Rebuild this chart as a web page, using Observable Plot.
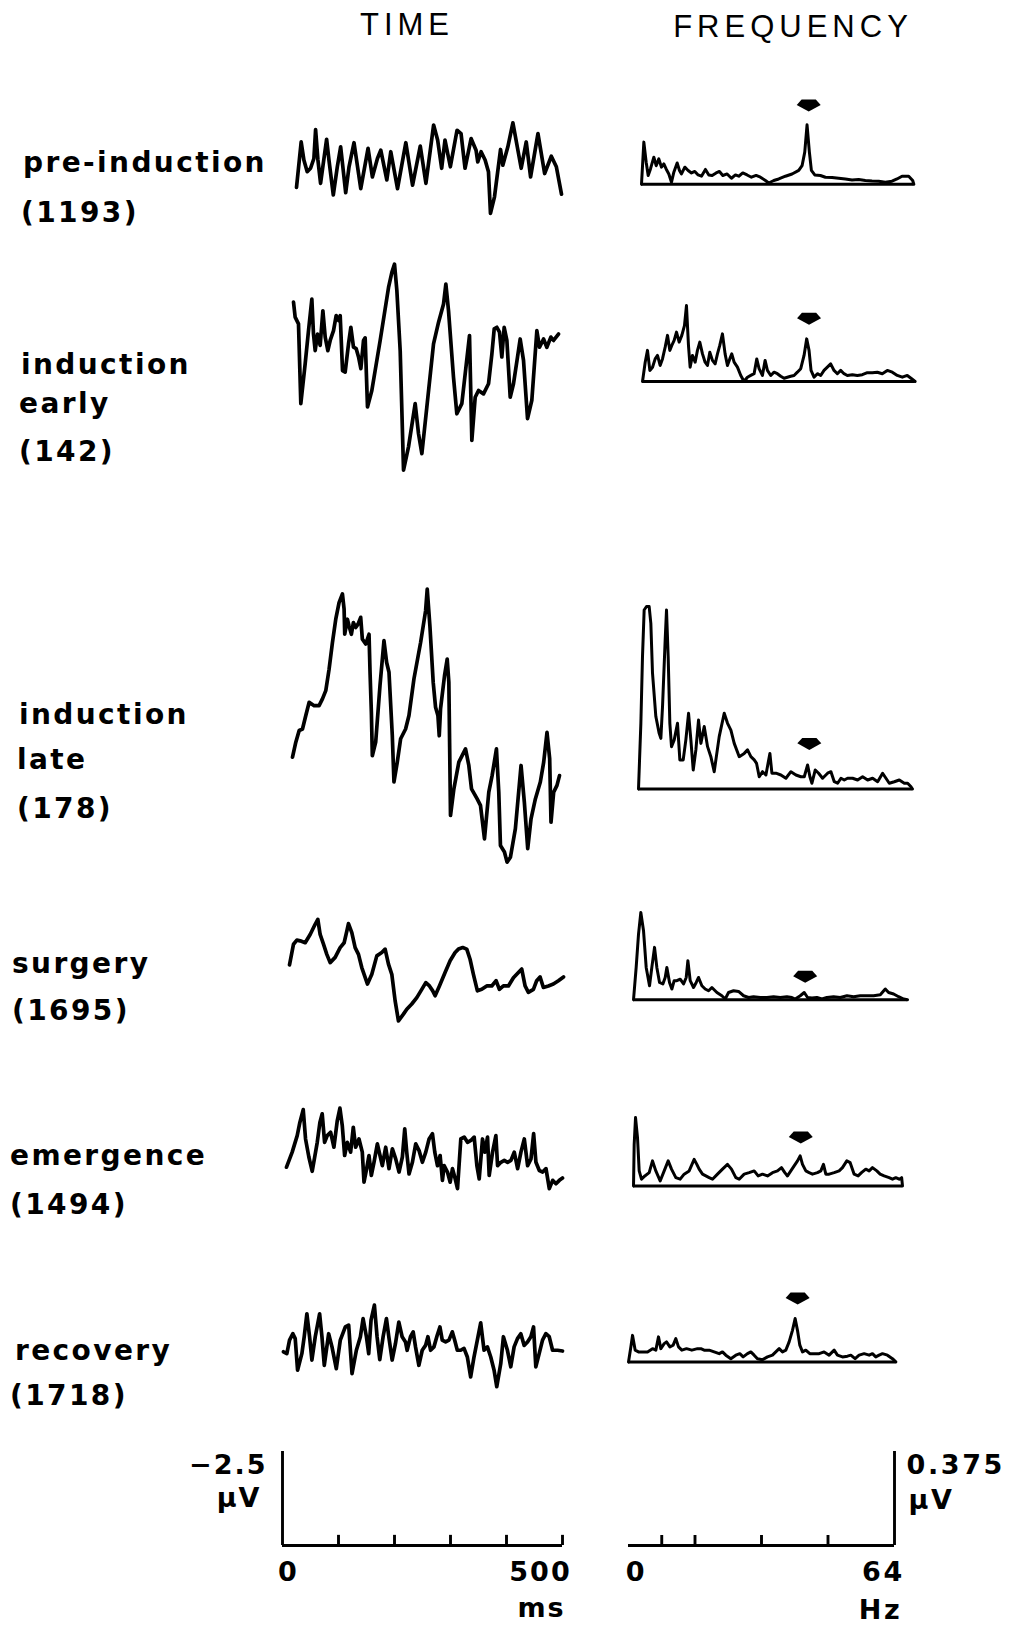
<!DOCTYPE html>
<html><head><meta charset="utf-8">
<script src="https://cdn.jsdelivr.net/npm/d3@7"></script>
<script src="https://cdn.jsdelivr.net/npm/@observablehq/plot@0.6"></script>
<style>
body{margin:0;background:#fff;}
#fig{position:relative;width:1019px;height:1625px;overflow:hidden;font-family:"Liberation Sans",Arial,sans-serif;color:#000;background:#fff;}
.lab{position:absolute;font-family:"DejaVu Sans",sans-serif;font-size:28px;font-weight:bold;letter-spacing:2.4px;line-height:32px;white-space:nowrap;}
.title{position:absolute;font-size:31px;letter-spacing:5px;line-height:36px;white-space:nowrap;transform:translateX(-50%);}
.panel{position:absolute;}
</style></head><body><div id="fig"></div><script>
// Averaged responses per anaesthesia stage: [time ms, µV] (negative up)
const preInductionTime = [[0,0.55],[8.8,-0.66],[13.9,-0.18],[20.2,0.13],[26.5,0.04],[32.8,-0.22],[36,-0.99],[40.4,-0.18],[45.4,0.44],[56.8,-0.73],[61.2,-0.18],[69.4,0.75],[77,0],[83.3,-0.53],[92.8,0.69],[99.1,0],[108.5,-0.64],[121.2,0.58],[135,-0.49],[143.2,0.27],[152.7,-0.22],[159,-0.44],[170.4,0.35],[177.9,-0.4],[190.6,0.58],[206.3,-0.64],[219,0.49],[233.5,-0.55],[244.2,0.44],[258.7,-1.11],[266.3,-0.71],[273.9,0.04],[280.2,-0.71],[290.3,0],[302.9,-0.97],[310.5,-0.88],[318,0.04],[329.4,-0.75],[338.8,-0.44],[342,-0.13],[348.3,-0.4],[355.9,-0.18],[362.2,0.13],[366,1.24],[373.6,0.8],[385,-0.46],[389.3,-0.04],[398.8,-0.53],[408.3,-1.17],[424,0.04],[433.5,-0.66],[441.7,0.27],[455.6,-0.88],[468.2,0.18],[480.8,-0.28],[490.3,0],[500,0.73]];
const inductionEarlyTime = [[0,-1.73],[3.1,-1.33],[9.4,-1.15],[13.8,0.97],[22,-0.09],[28.3,-0.97],[34.6,-1.81],[37.7,-0.88],[40.9,-0.44],[45.3,-0.88],[50.3,-0.58],[55.4,-1.5],[59.8,-0.8],[64.8,-0.44],[69.2,-0.71],[75.5,-0.97],[80.5,-1.37],[84.9,-1.24],[88.1,-1.37],[92.5,0.09],[97.5,0.13],[103.8,-0.62],[108.2,-1.06],[113.2,-0.53],[118.3,-0.49],[122.7,-0.27],[127.1,0.04],[132.1,-0.71],[135.2,-0.78],[139.6,1.06],[147.8,0.62],[163.5,-0.71],[179.3,-2.12],[185.6,-2.52],[190.6,-2.74],[195,-2.04],[201.3,-0.44],[207.6,2.74],[217,2.12],[229.6,0.97],[235.9,1.77],[242.2,2.3],[251.6,1.06],[264.2,-0.62],[273.6,-1.19],[283.1,-1.68],[287.5,-2.21],[292.5,-1.5],[301.9,0.27],[308.2,1.24],[317.6,0.97],[332.1,-0.84],[336.5,1.95],[342.8,0.8],[349.1,0.62],[358.5,0.71],[368,0.44],[374.3,-0.35],[378.7,-1.02],[383.7,-1.06],[388.7,-0.93],[393.1,-0.27],[397.5,-1.06],[402.6,-0.71],[408.9,0.8],[415.1,0.44],[422.7,-0.27],[427.7,-0.75],[434,-0.18],[441.6,1.37],[449.7,0.88],[459.2,-0.97],[464.2,-0.53],[471.8,-0.75],[478,-0.53],[485.6,-0.8],[490.6,-0.71],[500,-0.88]];
const inductionLateTime = [[0,0.84],[6.2,0.44],[12.5,0.13],[18.7,0.09],[24.9,-0.27],[31.2,-0.62],[40.5,-0.53],[49.8,-0.53],[56.1,-0.71],[62.3,-0.93],[68.5,-1.5],[74.8,-2.21],[81,-2.83],[87.2,-3.27],[93.5,-3.5],[96.6,-3.1],[97.8,-2.43],[102.8,-2.83],[105.9,-2.65],[110.3,-2.43],[114,-2.74],[118.4,-2.61],[122.7,-2.7],[127.7,-2.88],[130.8,-2.3],[137.1,-2.17],[143.3,-2.43],[145.2,-1.42],[147.7,-0.35],[149.5,0.8],[155.8,0.44],[163.8,-1.06],[171.3,-2.26],[176.3,-1.68],[180.7,-1.42],[186.9,0.27],[190,1.5],[196.2,0.97],[202.5,0.35],[211.8,0.09],[218.1,-0.27],[227.4,-1.24],[239.9,-2.21],[249.2,-3.05],[252.3,-3.63],[257.3,-2.65],[263.5,-1.15],[267.9,-0.49],[272.3,-0.27],[274.8,0.27],[277.2,-0.44],[284.7,-1.33],[289.7,-1.77],[292.8,-1.15],[295.9,2.39],[302.2,1.68],[311.5,0.97],[324,0.62],[330.2,1.06],[335.2,1.68],[345.8,1.95],[352,2.12],[359.5,3.01],[367.6,1.77],[373.8,1.33],[381.9,0.62],[386.3,1.77],[389.4,3.19],[396.9,3.36],[401.8,3.63],[408.1,3.5],[417.4,2.74],[428,1.06],[434.2,2.04],[440.5,3.27],[446.7,2.48],[454.8,1.95],[464.1,1.5],[470.4,0.97],[476.6,0.18],[481.6,0.88],[484.1,2.57],[489.1,1.77],[495.3,1.59],[500,1.33]];
const surgeryTime = [[0,-0.07],[7.3,-0.62],[13.4,-0.73],[19.5,-0.71],[28.6,-0.66],[37.7,-0.88],[46.8,-1.15],[51.7,-1.28],[55.9,-0.88],[62,-0.62],[68.1,-0.35],[74.2,-0.13],[83.3,-0.27],[92.4,-0.53],[99.7,-0.66],[104.6,-0.97],[107.6,-1.17],[113.7,-0.93],[119.8,-0.53],[125.9,-0.35],[131.9,0],[142.3,0.44],[150.2,0.18],[159.3,-0.31],[168.4,-0.4],[174.5,-0.49],[180.6,-0.09],[186.7,0.18],[192.7,0.88],[198.8,1.42],[207.9,1.24],[214,1.11],[223.1,0.97],[232.3,0.8],[241.4,0.58],[248.7,0.4],[255.4,0.49],[261.4,0.62],[265.7,0.75],[273.6,0.49],[283.9,0.13],[293.1,-0.18],[302.2,-0.4],[308.3,-0.49],[316.2,-0.53],[323.5,-0.49],[329.5,-0.22],[335.6,0.18],[342.9,0.62],[350.8,0.58],[359.9,0.49],[369.1,0.49],[377,0.35],[383,0.58],[390.3,0.49],[399.5,0.49],[408.6,0.27],[417.7,0.13],[423.8,0.04],[429.9,0.49],[435.9,0.66],[445.1,0.58],[451.1,0.35],[457.2,0.25],[463.3,0.53],[472.4,0.49],[481.5,0.44],[490.7,0.35],[500,0.25]];
const emergenceTime = [[0,0.31],[10.3,-0.09],[19.4,-0.53],[24.2,-0.88],[30.3,-1.22],[34.5,-0.44],[40.5,0.04],[46.6,0.42],[55.7,-0.35],[60.5,-0.88],[64.7,-1.11],[69,-0.35],[73.8,-0.53],[79.9,-0.62],[85.9,-0.22],[92,-0.93],[96.8,-1.26],[101,-0.8],[105.3,0],[110.1,-0.35],[116.2,-0.09],[121,-0.75],[125.2,-0.22],[131.3,-0.44],[137.3,-0.09],[140.4,0.71],[145.2,0.35],[149.4,0],[153.7,0.53],[158.5,0.18],[164.6,-0.31],[169.4,0],[173.6,0.27],[179.7,-0.22],[185.7,0.35],[191.8,-0.18],[197.8,0.09],[203.9,0.44],[209.9,0.04],[214.2,-0.71],[217.8,-0.09],[222,0.49],[228.1,0.18],[234.1,-0.31],[240.2,-0.13],[246.2,0.18],[252.3,-0.09],[258.3,-0.44],[264.4,-0.58],[268.6,-0.09],[273.5,0.27],[278.3,0],[282.5,0.66],[285.6,0.27],[291.6,0.44],[296.5,0.71],[300.7,0.35],[304.9,0.58],[309.8,0.88],[315.8,-0.44],[321.9,-0.49],[327.9,-0.35],[334,-0.4],[340,-0.49],[344.9,0.27],[349.1,0.62],[355.1,-0.44],[359.4,-0.09],[364.2,-0.49],[367.2,0.53],[373.3,-0.09],[379.3,-0.53],[382.4,0.27],[388.4,0.18],[394.5,0.13],[400.5,0.18],[406.6,0.13],[412.6,-0.09],[418.7,0.35],[424.7,-0.09],[430.8,-0.44],[436.8,0.27],[442.9,0.09],[447.7,-0.58],[451.9,0.18],[458,0.4],[464,0.44],[470.1,0.35],[476.1,0.88],[482.2,0.66],[488.2,0.75],[494.3,0.66],[500,0.6]];
const recoveryTime = [[0,0.13],[6,0.18],[10.8,-0.18],[16.8,-0.35],[21,-0.22],[25.2,0.62],[32.9,0.18],[37.1,-0.27],[41.9,-0.88],[46.7,-0.27],[50.9,0.35],[56.9,-0.27],[64.7,-0.88],[68.9,-0.27],[73.1,0.49],[80.9,-0.35],[86.9,0],[94.6,0.58],[101.8,-0.18],[110.8,-0.53],[116.8,-0.58],[122.8,0.71],[130.6,0.09],[137.8,-0.27],[142.6,-0.75],[148.6,-0.27],[152.7,0.18],[156.9,-0.71],[162.9,-1.11],[167.7,-0.27],[172.5,0.34],[178.5,-0.27],[184.5,-0.75],[188.7,-0.27],[194.7,0.35],[200.7,-0.09],[206.7,-0.66],[212.6,-0.27],[218.6,-0.13],[221.6,0.09],[227.6,-0.27],[232.4,-0.4],[236.6,0],[242.6,0.49],[248.6,0.09],[254.6,-0.04],[258.8,-0.27],[263.6,0.09],[269.6,0],[275.5,-0.31],[280.3,-0.53],[284.5,-0.18],[290.5,-0.13],[296.5,-0.18],[302.5,-0.4],[306.7,-0.18],[311.5,0.09],[317.5,0.09],[323.5,0.04],[329.5,0.27],[335.4,0.8],[341.4,0.27],[348.6,-0.27],[353.4,-0.64],[359.4,0.09],[365.4,0],[371.4,0.27],[377.4,0.62],[382.2,1.06],[389.4,0.44],[394.1,-0.27],[401.3,0.09],[407.3,0.53],[413.3,0],[419.3,-0.22],[425.3,-0.35],[431.3,-0.04],[437.3,-0.13],[443.3,-0.27],[448.1,-0.53],[452.2,0.53],[458.2,0.18],[464.2,-0.18],[470.2,-0.35],[476.2,-0.27],[482.2,0.09],[491.2,0.09],[500,0.11]];

// Amplitude spectra: [frequency Hz, µV]
const preInductionSpec = [[0,0],[0.55,0.168],[1.1,0.088],[1.57,0.035],[2.11,0.061],[2.9,0.108],[3.45,0.074],[4.07,0.101],[4.7,0.068],[5.25,0.081],[5.79,0.061],[6.42,0.041],[7.05,0.008],[7.6,0.048],[8.38,0.085],[8.93,0.055],[9.4,0.041],[10.18,0.068],[10.96,0.055],[11.75,0.045],[12.53,0.051],[13.31,0.037],[14.09,0.032],[15.03,0.059],[15.82,0.037],[16.6,0.035],[17.54,0.045],[18.32,0.051],[19.11,0.035],[20.12,0.041],[21.14,0.024],[22.08,0.037],[22.86,0.032],[23.8,0.045],[24.82,0.037],[25.84,0.028],[26.94,0.035],[27.95,0.028],[29.13,0.015],[29.91,0.005],[31.09,0.015],[32.26,0.021],[33.83,0.032],[35.39,0.041],[36.96,0.055],[37.74,0.074],[38.37,0.128],[38.91,0.237],[39.46,0.128],[39.93,0.055],[40.72,0.037],[42.05,0.035],[43.22,0.028],[44.79,0.027],[46.35,0.024],[47.92,0.021],[49.49,0.017],[51.05,0.019],[52.62,0.015],[54.18,0.013],[55.75,0.012],[57.32,0.008],[58.88,0.012],[60.06,0.021],[61.23,0.032],[62.8,0.032],[63.74,0.015],[64,0]];
const inductionEarlySpec = [[0,0],[0.63,0.077],[1.17,0.124],[1.72,0.044],[2.35,0.057],[2.97,0.09],[3.52,0.104],[4.14,0.064],[4.69,0.09],[5.32,0.137],[5.87,0.184],[6.41,0.124],[6.88,0.144],[7.43,0.164],[7.98,0.197],[8.6,0.157],[9.23,0.184],[9.85,0.223],[10.32,0.303],[10.79,0.144],[11.18,0.057],[11.73,0.104],[12.36,0.077],[12.9,0.124],[13.45,0.157],[14.08,0.11],[14.7,0.077],[15.25,0.064],[15.8,0.117],[16.42,0.084],[17.05,0.07],[17.6,0.11],[18.14,0.144],[18.77,0.19],[19.39,0.11],[19.94,0.064],[20.49,0.09],[20.96,0.11],[21.51,0.077],[22.29,0.057],[23.07,0.024],[23.85,0],[24.63,0.017],[25.42,0.024],[26.2,0.031],[26.82,0.09],[27.37,0.051],[28.15,0.024],[28.78,0.084],[29.33,0.044],[30.11,0.024],[30.89,0.037],[31.67,0.031],[32.45,0.021],[33.24,0.013],[34.02,0.017],[34.8,0.021],[35.58,0.024],[36.36,0.037],[37.15,0.051],[37.93,0.104],[38.55,0.17],[39.1,0.124],[39.57,0.044],[40.27,0.017],[41.06,0.031],[41.84,0.024],[42.62,0.044],[43.4,0.057],[44.18,0.07],[44.97,0.044],[45.75,0.031],[46.53,0.044],[47.31,0.031],[48.09,0.024],[49.27,0.027],[50.44,0.024],[51.61,0.027],[52.79,0.035],[53.96,0.035],[55.13,0.037],[56.3,0.031],[57.48,0.044],[58.65,0.037],[59.82,0.024],[61,0.017],[62.17,0.024],[63.19,0.011],[64,0]];
const inductionLateSpec = [[0,0],[0.55,0.262],[0.93,0.528],[1.32,0.714],[1.87,0.728],[2.49,0.728],[2.88,0.661],[3.27,0.462],[4.05,0.289],[4.83,0.222],[5.22,0.202],[5.61,0.329],[6.23,0.595],[6.54,0.714],[6.93,0.528],[7.32,0.262],[7.71,0.169],[8.34,0.196],[9.11,0.262],[9.66,0.116],[10.44,0.116],[11.06,0.196],[11.69,0.302],[12.23,0.196],[12.78,0.076],[13.4,0.156],[14.02,0.275],[14.57,0.182],[15.35,0.249],[16.13,0.169],[16.9,0.129],[17.68,0.069],[18.85,0.209],[20.02,0.302],[20.8,0.262],[21.58,0.235],[22.36,0.182],[23.53,0.129],[24.69,0.142],[25.47,0.156],[26.25,0.129],[27.03,0.116],[27.58,0.102],[28.2,0.049],[28.98,0.069],[29.76,0.056],[30.69,0.142],[31.16,0.063],[32.09,0.063],[33.26,0.056],[34.43,0.043],[35.6,0.069],[36.77,0.056],[37.94,0.049],[38.72,0.049],[39.5,0.096],[40.04,0.049],[40.51,0.023],[41.29,0.076],[42.07,0.063],[43,0.043],[44.17,0.063],[44.95,0.069],[45.73,0.029],[46.51,0.023],[47.29,0.043],[48.06,0.036],[48.84,0.043],[50.01,0.043],[51.18,0.036],[52.35,0.049],[53.52,0.036],[54.69,0.043],[55.86,0.029],[57.02,0.063],[57.8,0.043],[58.58,0.023],[59.75,0.029],[60.92,0.036],[62.09,0.023],[62.87,0.023],[63.65,0.009],[64,0]];
const surgerySpec = [[0,0],[0.62,0.129],[1.17,0.262],[1.71,0.348],[2.34,0.275],[2.96,0.129],[3.74,0.056],[4.28,0.129],[4.91,0.209],[5.45,0.129],[6.08,0.069],[6.86,0.063],[7.4,0.089],[7.79,0.129],[8.41,0.069],[8.96,0.043],[9.5,0.076],[10.13,0.076],[10.91,0.082],[11.69,0.063],[12.31,0.089],[12.7,0.156],[13.24,0.076],[14.02,0.049],[14.65,0.069],[15.19,0.089],[15.97,0.056],[16.75,0.043],[17.53,0.036],[18.31,0.049],[19.48,0.029],[20.64,0.016],[21.42,0.003],[22.2,0.029],[23.37,0.036],[24.54,0.033],[25.71,0.016],[26.88,0.009],[28.04,0.012],[29.6,0.009],[31.16,0.009],[32.72,0.012],[34.28,0.009],[35.83,0.012],[37,0.009],[37.78,0.003],[38.95,0.016],[39.88,0.029],[40.66,0.009],[41.68,0.007],[42.84,0.009],[44.01,0.003],[45.18,0.009],[46.74,0.012],[48.3,0.009],[49.86,0.016],[51.41,0.012],[52.97,0.016],[54.53,0.016],[56.09,0.016],[57.65,0.02],[58.81,0.043],[59.59,0.029],[60.76,0.023],[61.93,0.012],[63.1,0.003],[64,0]];
const emergenceSpec = [[0,0],[0.16,0.166],[0.48,0.273],[0.95,0.193],[1.35,0.06],[1.9,0.027],[2.7,0.04],[3.73,0.053],[4.52,0.1],[5.31,0.06],[6.34,0.02],[7.3,0.06],[8.25,0.1],[9.04,0.067],[10.07,0.033],[11.1,0.027],[12.05,0.047],[13.24,0.06],[14.43,0.106],[15.07,0.086],[15.62,0.067],[16.42,0.047],[17.21,0.04],[18,0.033],[18.79,0.027],[19.98,0.047],[21.17,0.067],[22.36,0.086],[23.31,0.067],[24.35,0.033],[25.14,0.027],[26.33,0.047],[27.52,0.053],[28.71,0.06],[29.66,0.04],[30.69,0.047],[31.88,0.04],[33.07,0.053],[34.26,0.06],[35.21,0.073],[36,0.053],[36.64,0.04],[37.43,0.06],[38.22,0.08],[39.02,0.1],[39.65,0.12],[40.21,0.086],[41,0.06],[41.79,0.053],[42.58,0.047],[43.77,0.053],[44.57,0.06],[45.2,0.086],[45.76,0.047],[46.55,0.047],[47.74,0.053],[48.93,0.06],[49.72,0.073],[50.75,0.1],[51.55,0.093],[52.5,0.047],[53.45,0.04],[54.24,0.053],[55.27,0.067],[56.07,0.06],[56.86,0.073],[57.89,0.06],[58.68,0.047],[59.63,0.04],[60.82,0.033],[61.62,0.027],[62.41,0.033],[63.21,0.027],[63.8,0.033],[64,0]];
const recoverySpec = [[0,0],[0.56,0.06],[0.96,0.106],[1.6,0.047],[2.39,0.04],[3.35,0.04],[4.55,0.04],[5.75,0.053],[6.54,0.047],[7.18,0.1],[7.74,0.053],[8.54,0.073],[9.1,0.08],[9.9,0.06],[10.69,0.067],[11.33,0.093],[11.97,0.06],[12.77,0.047],[13.89,0.053],[15.16,0.047],[16.52,0.053],[17.32,0.053],[18.11,0.047],[19.31,0.047],[20.51,0.04],[21.71,0.033],[22.5,0.04],[23.3,0.027],[24.5,0.013],[25.7,0.027],[26.65,0.033],[27.45,0.02],[28.49,0.033],[29.29,0.04],[30.08,0.027],[30.88,0.013],[32.08,0.009],[33.28,0.02],[34.47,0.027],[35.27,0.04],[36.07,0.053],[36.87,0.04],[37.67,0.047],[38.46,0.08],[39.26,0.126],[39.9,0.173],[40.46,0.126],[41.02,0.067],[41.66,0.04],[42.45,0.047],[43.41,0.033],[44.45,0.033],[45.65,0.033],[46.84,0.04],[48.04,0.027],[49.24,0.047],[50.03,0.027],[51.23,0.02],[52.43,0.023],[53.23,0.027],[54.26,0.013],[55.22,0.027],[56.42,0.033],[57.62,0.027],[58.41,0.033],[59.21,0.02],[60.01,0.027],[60.81,0.033],[62,0.027],[63.2,0.013],[64,0]];

// 40-Hz markers above each spectrum: [Hz, µV]
const markers = [[39.3,0.314],[39.1,0.25],[39.9,0.18],[40.1,0.092],[39.8,0.193],[40.5,0.253]];

// Row labels
const conditionLines = [["pre-induction"],["induction","early"],["induction","late"],["surgery"],["emergence"],["recovery"]];
const sweepCounts = [1193, 142, 178, 1695, 1494, 1718];

// Calibration bars and their tick labels
const timeTicks = [100, 200, 300, 400, 500];
const freqTicks = [8, 16, 32, 48];
const timeBar = {ms: [0, 500], uv: 2.5};
const freqBar = {hz: [0, 64], uv: 0.375};

// ---- layout (page pixels) ----
const PX_PER_UV = 94 / timeBar.uv;         // time traces
const PX_PER_UV_SPEC = 94 / freqBar.uv;    // spectra
const rows = [
  {time:{x0:296,x1:561,yc:166.7}, spec:{x0:641,x1:913.3,base:183.7}, labelY:[163,212.5], labelX:[23,21]},
  {time:{x0:293,x1:558,yc:366.7}, spec:{x0:641.7,x1:914.3,base:381}, labelY:[365,404,452], labelX:[21,19,19]},
  {time:{x0:292,x1:559,yc:725}, spec:{x0:637.7,x1:911.7,base:789}, labelY:[715,760,808.5], labelX:[19,17,17]},
  {time:{x0:289,x1:563,yc:966.7}, spec:{x0:633.3,x1:907.3,base:999}, labelY:[964,1011], labelX:[12,12]},
  {time:{x0:286,x1:562,yc:1155}, spec:{x0:632.7,x1:901.7,base:1185}, labelY:[1156,1204.5], labelX:[10,10]},
  {time:{x0:283,x1:562,yc:1346.7}, spec:{x0:627.7,x1:895,base:1361.7}, labelY:[1351,1396], labelX:[15,10]}
];
const timeTraces = [preInductionTime, inductionEarlyTime, inductionLateTime, surgeryTime, emergenceTime, recoveryTime];
const spectra = [preInductionSpec, inductionEarlySpec, inductionLateSpec, surgerySpec, emergenceSpec, recoverySpec];

const fig = document.getElementById("fig");
const svgStyle = {background: "transparent", overflow: "visible", fontFamily: "'DejaVu Sans', sans-serif"};

function place(el, left, top) {
  el.classList.add("panel");
  el.style.left = left + "px";
  el.style.top = top + "px";
  fig.appendChild(el);
}
function addText(text, cls, left, top) {
  const d = document.createElement("div");
  d.className = cls;
  d.textContent = text;
  d.style.left = left + "px";
  d.style.top = top + "px";
  fig.appendChild(d);
}

// Down-pointing pentagon marker
const arrowSymbol = {
  draw(ctx, size) {
    const s = Math.sqrt(size / Math.PI) / 11;
    ctx.moveTo(-6.5 * s, -5.5 * s);
    ctx.lineTo(6.5 * s, -5.5 * s);
    ctx.lineTo(11 * s, -0.5 * s);
    ctx.lineTo(0, 5.5 * s);
    ctx.lineTo(-11 * s, -0.5 * s);
    ctx.closePath();
  }
};

function timePanel(trace, box) {
  const h = d3.max(trace, d => Math.abs(d[1])) + 0.15;
  const height = 2 * h * PX_PER_UV;
  const svg = Plot.plot({
    width: box.x1 - box.x0, height, margin: 0,
    x: {domain: timeBar.ms, axis: null},
    y: {domain: [-h, h], reverse: true, axis: null},
    style: svgStyle,
    marks: [
      Plot.line(trace, {x: d => d[0], y: d => d[1], stroke: "#000", strokeWidth: 3.7, strokeLinejoin: "round", strokeLinecap: "round"})
    ]
  });
  place(svg, box.x0, box.yc - h * PX_PER_UV);
}

function specPanel(spec, marker, box) {
  const top = Math.max(d3.max(spec, d => d[1]), marker[1]) + 0.04;
  const height = top * PX_PER_UV_SPEC;
  const svg = Plot.plot({
    width: box.x1 - box.x0, height, margin: 0,
    x: {domain: freqBar.hz, axis: null},
    y: {domain: [0, top], axis: null},
    style: svgStyle,
    marks: [
      Plot.ruleY([0], {stroke: "#000", strokeWidth: 3}),
      Plot.line(spec, {x: d => d[0], y: d => d[1], stroke: "#000", strokeWidth: 3, strokeLinejoin: "round", strokeLinecap: "round"}),
      Plot.dot([marker], {x: d => d[0], y: d => d[1], symbol: arrowSymbol, r: 12, fill: "#000", stroke: "none"})
    ]
  });
  place(svg, box.x0, box.base - height);
}

rows.forEach((row, i) => {
  timePanel(timeTraces[i], row.time);
  specPanel(spectra[i], markers[i], row.spec);
  const lines = [...conditionLines[i], `(${sweepCounts[i]})`];
  lines.forEach((t, j) => addText(t, "lab", row.labelX[j], row.labelY[j] - 16));
});

addText("TIME", "title", 407, 25 - 18);
addText("FREQUENCY", "title", 793, 27 - 18);

const labelFont = {fontSize: 27, fontWeight: "bold", fill: "#000"};

// Time calibration: -2.5 µV by 500 ms
const timeScale = Plot.plot({
  width: 280, height: 94, margin: 0,
  x: {domain: timeBar.ms, axis: null},
  y: {domain: [0, -timeBar.uv], axis: null},
  style: {...svgStyle, letterSpacing: "2px"},
  marks: [
    Plot.ruleX([0], {y1: 0, y2: -timeBar.uv, strokeWidth: 2.9}),
    Plot.ruleY([0], {x1: timeBar.ms[0], x2: timeBar.ms[1], strokeWidth: 2.9}),
    Plot.ruleX(timeTicks, {y1: 0, y2: -0.27, strokeWidth: 2.9}),
    Plot.text([`\u2212${timeBar.uv}`], {x: 0, y: -timeBar.uv, text: d => d, textAnchor: "end", dx: -15, dy: 14, ...labelFont}),
    Plot.text(["µV"], {x: 0, y: -timeBar.uv, text: d => d, textAnchor: "end", dx: -21, dy: 47, ...labelFont}),
    Plot.text([timeBar.ms[0]], {x: d => d, y: 0, text: d => String(d), dx: 6, dy: 27, ...labelFont}),
    Plot.text([timeBar.ms[1]], {x: d => d, y: 0, text: d => String(d), dx: -22, dy: 27, ...labelFont}),
    Plot.text(["ms"], {x: timeBar.ms[1], y: 0, text: d => d, dx: -21, dy: 63, ...labelFont})
  ]
});
place(timeScale, 282, 1451);

// Frequency calibration: 0.375 µV by 64 Hz
const freqScale = Plot.plot({
  width: 266, height: 94, margin: 0,
  x: {domain: freqBar.hz, axis: null},
  y: {domain: [0, freqBar.uv], axis: null},
  style: {...svgStyle, letterSpacing: "2.6px"},
  marks: [
    Plot.ruleX([freqBar.hz[1]], {y1: 0, y2: freqBar.uv, strokeWidth: 2.9}),
    Plot.ruleY([0], {x1: freqBar.hz[0], x2: freqBar.hz[1], strokeWidth: 2.9}),
    Plot.ruleX(freqTicks, {y1: 0, y2: 0.04, strokeWidth: 2.9}),
    Plot.text([String(freqBar.uv)], {x: freqBar.hz[1], y: freqBar.uv, text: d => d, textAnchor: "start", dx: 12, dy: 14, ...labelFont}),
    Plot.text(["µV"], {x: freqBar.hz[1], y: freqBar.uv, text: d => d, textAnchor: "start", dx: 14, dy: 49, ...labelFont}),
    Plot.text([freqBar.hz[0]], {x: d => d, y: 0, text: d => String(d), dx: 8, dy: 27, ...labelFont}),
    Plot.text([freqBar.hz[1]], {x: d => d, y: 0, text: d => String(d), dx: -11, dy: 27, ...labelFont}),
    Plot.text(["Hz"], {x: freqBar.hz[1], y: 0, text: d => d, dx: -14, dy: 65, ...labelFont})
  ]
});
place(freqScale, 628, 1451);
</script></body></html>
